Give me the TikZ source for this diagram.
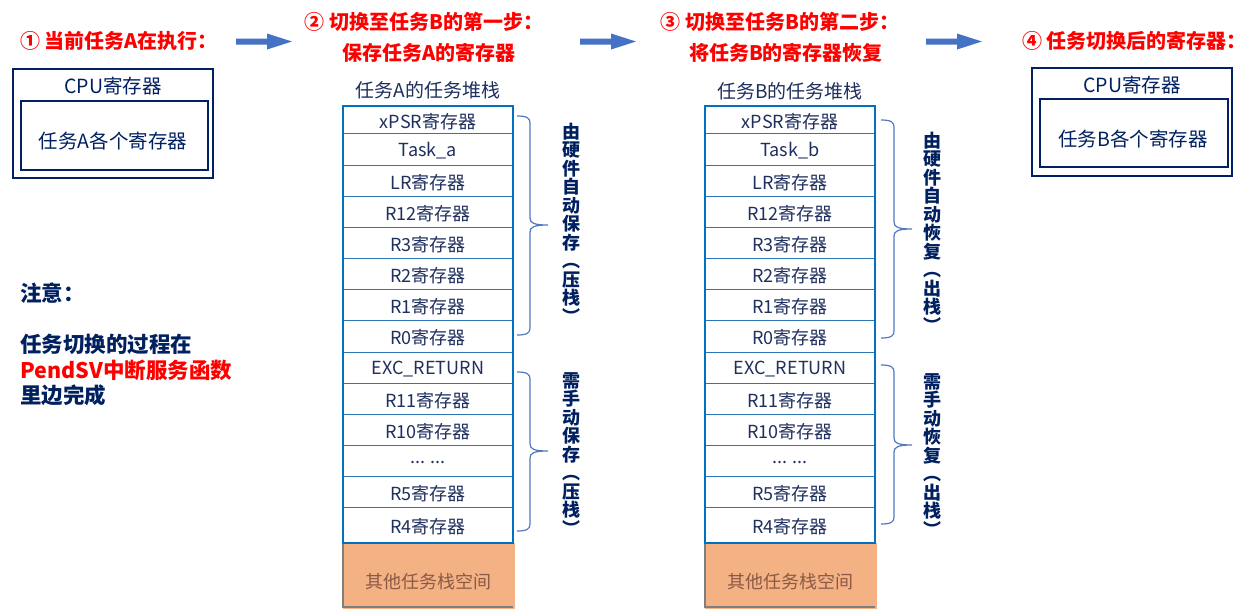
\documentclass[tikz,border=0pt]{standalone}
\usepackage{fontspec}
\setmainfont{Noto Sans CJK SC}
\definecolor{navy}{HTML}{002060}
\definecolor{rowtxt}{HTML}{1F2F5E}
\definecolor{stackblue}{HTML}{0070C0}
\definecolor{rowblue}{HTML}{2E75B6}
\definecolor{bracecol}{HTML}{4F78C4}
\definecolor{arrowcol}{HTML}{4472C4}
\definecolor{orangefill}{HTML}{F4B183}
\definecolor{orangetext}{HTML}{8A5A46}
\definecolor{shadowgray}{HTML}{7F7F7F}
\definecolor{titlered}{HTML}{FF0000}
\newcommand{\mydotrow}{... ...}
\newcommand{\stackbrace}[5]{% x0, ytop, ymid, ybot, xtip
  \pgfmathsetmacro\bx{#1+13}
  \draw[bracestyle] (#1,#2) .. controls ({#1+10},#2) and (\bx,{#2+2}) .. (\bx,{#2+7})
    -- (\bx,{#3-7}) .. controls (\bx,{#3-2}) and ({\bx+4},#3) .. (#5,#3)
    .. controls ({\bx+4},#3) and (\bx,{#3+2}) .. (\bx,{#3+7})
    -- (\bx,{#4-7}) .. controls (\bx,{#4-2}) and ({#1+10},#4) .. (#1,#4);
}
\begin{document}
\begin{tikzpicture}[x=1pt,y=-1pt,
  title/.style={text=titlered,font=\fontsize{20}{31}\selectfont\bfseries,inner sep=0pt,align=center},
  cpuouter/.style={draw=navy,line width=2.5pt},
  cputxt/.style={text=navy,font=\fontsize{19.5}{22}\selectfont,inner sep=0pt},
  rowtext/.style={text=rowtxt,font=\fontsize{18}{20}\selectfont,inner sep=0pt},
  stacktitle/.style={text=rowtxt,font=\fontsize{19}{22}\selectfont,inner sep=0pt},
  rowline/.style={draw=rowblue,line width=1pt},
  stackborder/.style={draw=stackblue,line width=2.5pt},
  bracestyle/.style={draw=bracecol,line width=1.2pt},
  vtext/.style={text=navy,font=\fontsize{18}{18.5}\selectfont\bfseries,inner sep=0pt,align=center},
  blockarrow/.style={fill=arrowcol,draw=none},
  notetxt/.style={text=navy,font=\fontsize{21.5}{25.5}\selectfont\bfseries,inner sep=0pt,align=left}
]
\useasboundingbox (0,0) rectangle (1245,614);
\fill[white] (0,0) rectangle (1245,614);

% ---------- titles ----------
\node[title,anchor=west] (t1) at (20,41) {① 当前任务A在执行：};
\node[title] (t2a) at (424,22) {② 切换至任务B的第一步：};
\node[title] (t2b) at (429,53) {保存任务A的寄存器};
\node[title] (t3a) at (780,22) {③ 切换至任务B的第二步：};
\node[title] (t3b) at (786,53) {将任务B的寄存器恢复};
\node[title,anchor=west] (t4) at (1022,41) {④ 任务切换后的寄存器：};

% ---------- block arrows ----------
\foreach \ax in {236,580,926}{
  \fill[blockarrow] (\ax,38.5) -- ({\ax+31},38.5) -- ({\ax+31},33.5) -- ({\ax+56},41.5)
     -- ({\ax+31},49.5) -- ({\ax+31},44.5) -- (\ax,44.5) -- cycle;
}

% ---------- CPU boxes ----------
\draw[cpuouter] (13,69) rectangle (213,178);
\draw[cpuouter] (21,101) rectangle (208,170);
\node[cputxt] (cpuA) at (113,86) {CPU寄存器};
\node[cputxt] (regA) at (113,141) {任务A各个寄存器};

\draw[cpuouter] (1032,68) rectangle (1232,176);
\draw[cpuouter] (1040,99) rectangle (1228,167);
\node[cputxt] (cpuB) at (1132,85) {CPU寄存器};
\node[cputxt] (regB) at (1133,139) {任务B各个寄存器};

% ---------- note ----------
\node[notetxt,anchor=north west] (note) at (20,283) {注意：\\[25.5pt]任务切换的过程在\\\textcolor{titlered}{PendSV中断服务函数}\\里边完成};

% ---------- stacks ----------
\def\ylist{{106,133,165,196,227,258,289,320,352,383,414,445,476,507,543}}
\foreach \sx/\tk/\nm in {343/a/A,705/b/B}{
  \pgfmathsetmacro\cx{\sx+85}
  \fill[orangefill] (\sx,543) rectangle ({\sx+172},609);
  \draw[draw=shadowgray,line width=2pt] (\sx,543) -- (\sx,607) -- ({\sx+170},607);
  \foreach \i in {1,2,3,4,5,6,7,8,9,10,11,12,13}{
    \pgfmathsetmacro\yy{\ylist[\i]}
    \draw[rowline] (\sx,\yy) -- ({\sx+170},\yy);
  }
  \draw[stackborder] (\sx,543) -- (\sx,106) -- ({\sx+170},106) -- ({\sx+170},543) -- cycle;
  \foreach \lab [count=\i from 0] in {xPSR寄存器,Task\_\tk,LR寄存器,R12寄存器,R3寄存器,R2寄存器,R1寄存器,R0寄存器,EXC\_RETURN,R11寄存器,R10寄存器,\mydotrow,R5寄存器,R4寄存器}{
    \pgfmathsetmacro\ya{\ylist[\i]}
    \pgfmathsetmacro\yb{\ylist[\i+1]}
    \node[rowtext] (r\nm\i) at (\cx,{(\ya+\yb)/2+2}) {\lab};
  }
  \node[text=orangetext,font=\fontsize{18}{20}\selectfont,inner sep=0pt] (other\nm) at (\cx,582) {其他任务栈空间};
}
\node[stacktitle] (stA) at (428,90) {任务A的任务堆栈};
\node[stacktitle] (stB) at (790,91) {任务B的任务堆栈};

% ---------- braces ----------
\stackbrace{517}{116}{225}{335}{548}
\stackbrace{517}{372}{451}{531}{548}
\stackbrace{881}{120}{229}{338}{912}
\stackbrace{881}{365}{445}{524}{912}

\node[vtext] (hwA) at (571,223) {由\\硬\\件\\自\\动\\保\\存\\︵\\压\\栈\\︶};
\node[vtext] (swA) at (571,454) {需\\手\\动\\保\\存\\︵\\压\\栈\\︶};
\node[vtext] (hwB) at (932,232) {由\\硬\\件\\自\\动\\恢\\复\\︵\\出\\栈\\︶};
\node[vtext] (swB) at (932,455) {需\\手\\动\\恢\\复\\︵\\出\\栈\\︶};
\end{tikzpicture}
\end{document}
